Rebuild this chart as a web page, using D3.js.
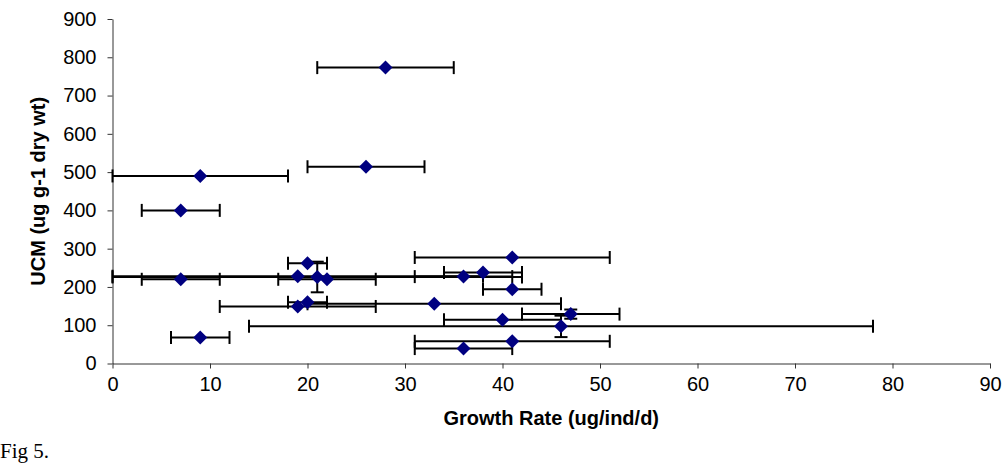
<!DOCTYPE html>
<html lang="en">
<head>
<meta charset="UTF-8">
<title>Fig 5</title>
<script src="https://d3js.org/d3.v7.min.js"></script>
<style>
    body { margin: 0; background: #fff; }
    text { font-family: "Liberation Sans", Arial, sans-serif; }
</style>
</head>
<body>
<script>

    // growth rate (x), UCM (y), error bar half widths
    var growth = [28, 26, 9, 7, 41, 20, 38, 36, 19, 21, 22, 7, 41, 20, 33, 19, 47, 40, 46, 9, 41, 36];
    var ucm    = [773, 514, 490, 400, 277, 262, 238, 227, 228, 226, 220, 220, 194, 160, 156, 149, 129, 114, 97, 68, 58, 39];
    var xErr   = [7, 6, 9, 4, 10, 2, 4, 5, 19, 21, 5, 4, 3, 2, 13, 8, 5, 6, 32, 3, 10, 5];
    var yErr   = [0, 0, 0, 0, 0, 0, 0, 0, 0, 40, 0, 0, 0, 0, 0, 0, 12, 0, 28, 0, 0, 0];
    var xTicks = d3.range(0, 91, 10);
    var yTicks = d3.range(0, 901, 100);

    var data = growth.map(function (g, i) {
        return {x: g, y: ucm[i], ex: xErr[i], ey: yErr[i]};
    });

    var width = 1007, height = 464;

    var svg = d3.select('body').append('svg')
        .attr('width', width)
        .attr('height', height);

    var x = d3.scaleLinear().domain([0, 90]).range([112.5, 990]);
    var y = d3.scaleLinear().domain([0, 900]).range([363.5, 19]);

    // axes
    var xAxis = svg.append('g')
        .attr('transform', 'translate(0,' + y(0) + ')')
        .call(d3.axisBottom(x).tickValues(xTicks).tickSize(5).tickPadding(8).tickSizeOuter(0));
    var yAxis = svg.append('g')
        .attr('transform', 'translate(' + x(0) + ',0)')
        .call(d3.axisLeft(y).tickValues(yTicks).tickSize(5).tickPadding(11).tickSizeOuter(0));

    [xAxis, yAxis].forEach(function (a) {
        a.select('.domain').attr('stroke', '#333');
        a.selectAll('.tick line').attr('stroke', '#333');
        a.selectAll('.tick text')
            .attr('fill', '#000')
            .style('font-size', '20px')
            .style('font-family', '"Liberation Sans", Arial, sans-serif');
    });

    // error bars (drawn behind the markers)
    var bars = svg.append('g')
        .attr('stroke', '#000')
        .attr('stroke-width', 2);

    data.forEach(function (d) {
        var cy = y(d.y), cx = x(d.x);
        if (d.ex > 0) {
            var x1 = x(Math.max(0, d.x - d.ex)), x2 = x(d.x + d.ex);
            bars.append('line').attr('x1', x1).attr('x2', x2).attr('y1', cy).attr('y2', cy);
            bars.append('line').attr('x1', x1).attr('x2', x1).attr('y1', cy - 6.5).attr('y2', cy + 6.5);
            bars.append('line').attr('x1', x2).attr('x2', x2).attr('y1', cy - 6.5).attr('y2', cy + 6.5);
        }
        if (d.ey > 0) {
            var y1 = y(d.y + d.ey), y2 = y(d.y - d.ey);
            bars.append('line').attr('x1', cx).attr('x2', cx).attr('y1', y1).attr('y2', y2);
            bars.append('line').attr('x1', cx - 6.5).attr('x2', cx + 6.5).attr('y1', y1).attr('y2', y1);
            bars.append('line').attr('x1', cx - 6.5).attr('x2', cx + 6.5).attr('y1', y2).attr('y2', y2);
        }
    });

    // diamond markers
    svg.append('g').selectAll('path')
        .data(data)
        .enter()
        .append('path')
        .attr('d', 'M0,-7L7,0L0,7L-7,0Z')
        .attr('transform', function (d) {
            return 'translate(' + x(d.x) + ',' + y(d.y) + ')';
        })
        .attr('fill', '#000080');

    // axis titles
    svg.append('text')
        .attr('x', (x(0) + x(90)) / 2)
        .attr('y', 425)
        .attr('text-anchor', 'middle')
        .style('font-size', '20px')
        .style('font-weight', 'bold')
        .text('Growth Rate (ug/ind/d)');

    svg.append('text')
        .attr('transform', 'translate(45,' + (y(0) + y(900)) / 2 + ') rotate(-90)')
        .attr('text-anchor', 'middle')
        .style('font-size', '20px')
        .style('font-weight', 'bold')
        .text('UCM (ug g-1 dry wt)');

    svg.append('text')
        .attr('x', 0)
        .attr('y', 458)
        .style('font-family', '"Liberation Serif", "Times New Roman", serif')
        .style('font-size', '21px')
        .text('Fig 5.');

</script>
</body>
</html>
